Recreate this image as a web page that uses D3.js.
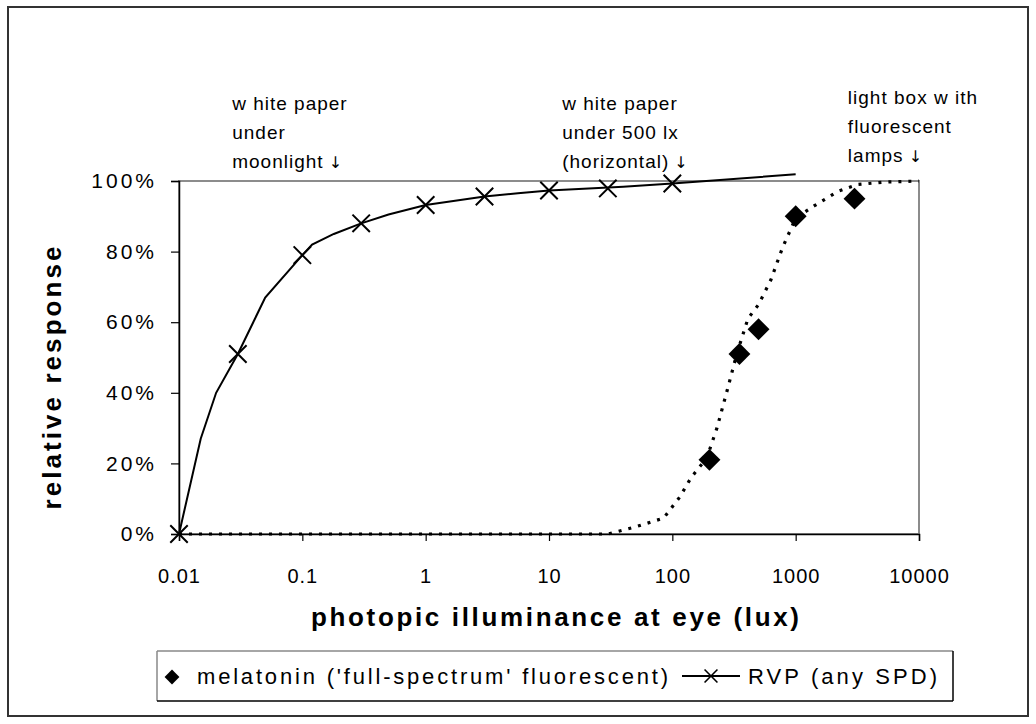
<!DOCTYPE html>
<html>
<head>
<meta charset="utf-8">
<script src="https://cdn.jsdelivr.net/npm/d3@7"></script>
<style>
  html, body { margin: 0; padding: 0; background: #fff; }
  svg { display: block; font-family: "Liberation Sans", Arial, sans-serif; }
</style>
</head>
<body>
<svg id="chart" width="1036" height="724"></svg>
<script>
// ---- data ----
const xTicks = [0.01, 0.1, 1, 10, 100, 1000, 10000];
const xTickLabels = ['0.01', '0.1', '1', '10', '100', '1000', '10000'];
const yTicks = [0, 0.2, 0.4, 0.6, 0.8, 1.0];

// melatonin suppression, 'full-spectrum' fluorescent
const melX = [200, 350, 500, 1000, 3000];
const melY = [0.21, 0.51, 0.58, 0.90, 0.95];
// dotted fitted curve
const melCurveX = [0.01, 1, 10, 30, 50, 85, 115, 142, 190, 230, 280, 333, 410, 500, 630, 780, 1000, 1420, 2180, 3160, 5200, 10000];
const melCurveY = [0, 0, 0, 0, 0.02, 0.045, 0.105, 0.16, 0.215, 0.30, 0.41, 0.51, 0.61, 0.65, 0.72, 0.81, 0.895, 0.93, 0.97, 0.99, 0.997, 1.0];

// relative visual performance
const rvpX = [0.01, 0.03, 0.1, 0.3, 1, 3, 10, 30, 100];
const rvpY = [0, 0.51, 0.79, 0.88, 0.932, 0.956, 0.973, 0.979, 0.993];
const rvpCurveX = [0.01, 0.015, 0.02, 0.03, 0.04, 0.05, 0.1, 0.12, 0.18, 0.3, 0.5, 1, 3, 5.6, 10, 40, 100, 1000];
const rvpCurveY = [0, 0.27, 0.40, 0.51, 0.60, 0.67, 0.79, 0.82, 0.85, 0.88, 0.905, 0.932, 0.956, 0.965, 0.973, 0.984, 0.993, 1.019];

// annotation text, anchored at an illuminance value
const annotations = [
  { x: 0.027, lines: ['w hite paper', 'under', 'moonlight'] },
  { x: 12.8, lines: ['w hite paper', 'under 500 lx', '(horizontal)'] },
  { x: 2650, lines: ['light box w ith', 'fluorescent', 'lamps'] },
];

const legendLabels = ["melatonin ('full-spectrum' fluorescent)", 'RVP (any SPD)'];

// ---- layout ----
const plot = { left: 179, right: 919, top: 181, bottom: 534 };

const svg = d3.select('#chart');

// outer frame
svg.append('rect')
  .attr('x', 8).attr('y', 7).attr('width', 1020).attr('height', 709)
  .attr('fill', 'none').attr('stroke', '#333').attr('stroke-width', 2);

const x = d3.scaleLog().domain([0.01, 10000]).range([plot.left, plot.right]);
const y = d3.scaleLinear().domain([0, 1]).range([plot.bottom, plot.top]);

// plot area border (grey top/right)
svg.append('rect')
  .attr('x', plot.left).attr('y', plot.top)
  .attr('width', plot.right - plot.left).attr('height', plot.bottom - plot.top)
  .attr('fill', 'none').attr('stroke', '#8c8c8c').attr('stroke-width', 2);

// axes
const yAxis = svg.append('g')
  .attr('transform', `translate(${plot.left},0)`)
  .call(d3.axisLeft(y).tickValues(yTicks).tickFormat(d3.format('.0%')).tickSize(8).tickPadding(14));
const xAxis = svg.append('g')
  .attr('transform', `translate(0,${plot.bottom})`)
  .call(d3.axisBottom(x).tickValues(xTicks).tickFormat((d, i) => xTickLabels[i]).tickSize(7).tickPadding(28));

[yAxis, xAxis].forEach(g => {
  g.select('.domain').attr('stroke', '#000').attr('stroke-width', 1.5);
  g.selectAll('.tick line').attr('stroke', '#000').attr('stroke-width', 1.2);
  g.selectAll('text').attr('fill', '#000').attr('font-family', '"Liberation Sans", Arial, sans-serif');
});
yAxis.selectAll('text').attr('font-size', 21).style('letter-spacing', '3px');
xAxis.selectAll('text').attr('font-size', 20).style('letter-spacing', '1px');

// axis titles
svg.append('text')
  .attr('transform', 'translate(61,378) rotate(-90)')
  .attr('text-anchor', 'middle')
  .attr('font-size', 26).attr('font-weight', 'bold')
  .attr('textLength', 263).attr('lengthAdjust', 'spacing')
  .text('relative response');

svg.append('text')
  .attr('x', 555).attr('y', 626)
  .attr('text-anchor', 'middle')
  .attr('font-size', 26).attr('font-weight', 'bold')
  .attr('textLength', 488).attr('lengthAdjust', 'spacing')
  .text('photopic illuminance at eye (lux)');

// melatonin dotted curve
const melLine = d3.line().x(d => x(d[0])).y(d => y(d[1]));
svg.append('path')
  .datum(d3.zip(melCurveX, melCurveY))
  .attr('d', melLine)
  .attr('fill', 'none').attr('stroke', '#000')
  .attr('stroke-width', 3.2).attr('stroke-dasharray', '3,7');

// RVP curve
const rvpLine = d3.line().x(d => x(d[0])).y(d => y(d[1]));
svg.append('path')
  .datum(d3.zip(rvpCurveX, rvpCurveY))
  .attr('d', rvpLine)
  .attr('fill', 'none').attr('stroke', '#000').attr('stroke-width', 2);

// melatonin diamonds
const diamond = d3.symbol().type(d3.symbolSquare).size(240);
svg.append('g').selectAll('path')
  .data(d3.zip(melX, melY))
  .join('path')
  .attr('d', diamond)
  .attr('transform', d => `translate(${x(d[0])},${y(d[1])}) rotate(45)`)
  .attr('fill', '#000');

// RVP X markers
const cross = d3.symbol().type(d3.symbolX).size(200);
svg.append('g').selectAll('path')
  .data(d3.zip(rvpX, rvpY))
  .join('path')
  .attr('d', cross)
  .attr('transform', d => `translate(${x(d[0])},${y(d[1])})`)
  .attr('fill', 'none').attr('stroke', '#000').attr('stroke-width', 2);

// annotations above the plot (last line ends with a down arrow)
annotations.forEach((a, k) => {
  const t = svg.append('text')
    .attr('x', x(a.x)).attr('y', k === 2 ? 104 : 110)
    .attr('font-size', 19).attr('fill', '#000').style('letter-spacing', '1px');
  a.lines.forEach((s, i) => {
    t.append('tspan').attr('x', x(a.x)).attr('dy', i === 0 ? 0 : 29).text(s);
  });
  t.append('tspan')
    .attr('font-family', '"DejaVu Sans", sans-serif')
    .attr('font-size', 16).attr('fill', '#000')
    .style('letter-spacing', '0px')
    .text(' \u2193');
});

// legend
const leg = svg.append('g');
leg.append('line').attr('x1', 157).attr('x2', 953).attr('y1', 651).attr('y2', 651).attr('stroke', '#888').attr('stroke-width', 1.5);
leg.append('line').attr('x1', 157).attr('x2', 157).attr('y1', 651).attr('y2', 701).attr('stroke', '#888').attr('stroke-width', 1.5);
leg.append('line').attr('x1', 157).attr('x2', 953).attr('y1', 701).attr('y2', 701).attr('stroke', '#000').attr('stroke-width', 1.5);
leg.append('line').attr('x1', 953).attr('x2', 953).attr('y1', 651).attr('y2', 701).attr('stroke', '#000').attr('stroke-width', 1.5);

leg.append('path')
  .attr('d', d3.symbol().type(d3.symbolSquare).size(110))
  .attr('transform', 'translate(172,677) rotate(45)')
  .attr('fill', '#000');
leg.append('text')
  .attr('x', 197).attr('y', 684)
  .attr('font-size', 22)
  .attr('textLength', 471).attr('lengthAdjust', 'spacing')
  .text(legendLabels[0]);

leg.append('line').attr('x1', 682).attr('x2', 740).attr('y1', 676).attr('y2', 676)
  .attr('stroke', '#000').attr('stroke-width', 2);
leg.append('path')
  .attr('d', d3.symbol().type(d3.symbolX).size(110))
  .attr('transform', 'translate(711,676)')
  .attr('fill', 'none').attr('stroke', '#000').attr('stroke-width', 1.6);
leg.append('text')
  .attr('x', 748).attr('y', 684)
  .attr('font-size', 22)
  .attr('textLength', 189).attr('lengthAdjust', 'spacing')
  .text(legendLabels[1]);
</script>
</body>
</html>
